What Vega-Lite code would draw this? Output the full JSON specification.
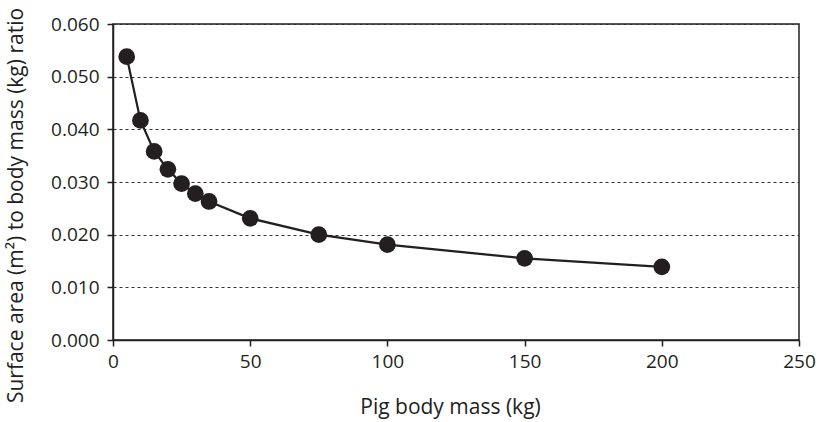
{
  "$schema": "https://vega.github.io/schema/vega-lite/v6.json",
  "width": 686,
  "height": 316,
  "autosize": {"type": "none"},
  "padding": {"left": 113, "top": 24, "right": 22, "bottom": 82},
  "background": "white",
  "config": {
    "view": {"stroke": "#222", "strokeWidth": 1.5},
    "font": "Open Sans"
  },
  "data": {
    "values": [
      {"mass": 5, "ratio": 0.0538},
      {"mass": 10, "ratio": 0.0417},
      {"mass": 15, "ratio": 0.0358},
      {"mass": 20, "ratio": 0.0324},
      {"mass": 25, "ratio": 0.0297},
      {"mass": 30, "ratio": 0.0278},
      {"mass": 35, "ratio": 0.0263},
      {"mass": 50, "ratio": 0.0231},
      {"mass": 75, "ratio": 0.0200},
      {"mass": 100, "ratio": 0.0181},
      {"mass": 150, "ratio": 0.0155},
      {"mass": 200, "ratio": 0.0139}
    ]
  },
  "encoding": {
    "x": {
      "field": "mass", "type": "quantitative",
      "scale": {"domain": [0, 250], "nice": false},
      "axis": {
        "values": [0, 50, 100, 150, 200, 250],
        "title": "Pig body mass (kg)",
        "titleFontSize": 21, "titleFontWeight": "normal", "titleColor": "#231f20",
        "titleX": 337, "titleY": 73, "titleBaseline": "alphabetic", "titleAlign": "center",
        "labelFontSize": 19, "labelColor": "#231f20", "labelPadding": 6,
        "labelFlush": false, "labelOverlap": false,
        "domainColor": "#231f20", "domainWidth": 1.5,
        "tickColor": "#231f20", "tickSize": 6, "tickWidth": 1.5,
        "grid": false
      }
    },
    "y": {
      "field": "ratio", "type": "quantitative",
      "scale": {"domain": [0, 0.06], "nice": false},
      "axis": {
        "values": [0, 0.01, 0.02, 0.03, 0.04, 0.05, 0.06],
        "format": ".3f",
        "title": "Surface area (m²) to body mass (kg) ratio",
        "titleFontSize": 21, "titleFontWeight": "normal", "titleColor": "#231f20",
        "titleAngle": -90, "titleX": -91, "titleY": 181, "titleBaseline": "alphabetic", "titleAlign": "center",
        "labelFontSize": 19, "labelColor": "#231f20", "labelPadding": 8,
        "labelFlush": false, "labelOverlap": false,
        "domainColor": "#231f20", "domainWidth": 1.5,
        "tickColor": "#231f20", "tickSize": 6, "tickWidth": 1.5,
        "grid": true, "gridColor": "#333", "gridDash": [3, 3], "gridWidth": 1.2
      }
    }
  },
  "layer": [
    {"mark": {"type": "line", "color": "#231f20", "strokeWidth": 2.2}},
    {"mark": {"type": "point", "filled": true, "color": "#231f20", "opacity": 1, "size": 280}}
  ]
}
